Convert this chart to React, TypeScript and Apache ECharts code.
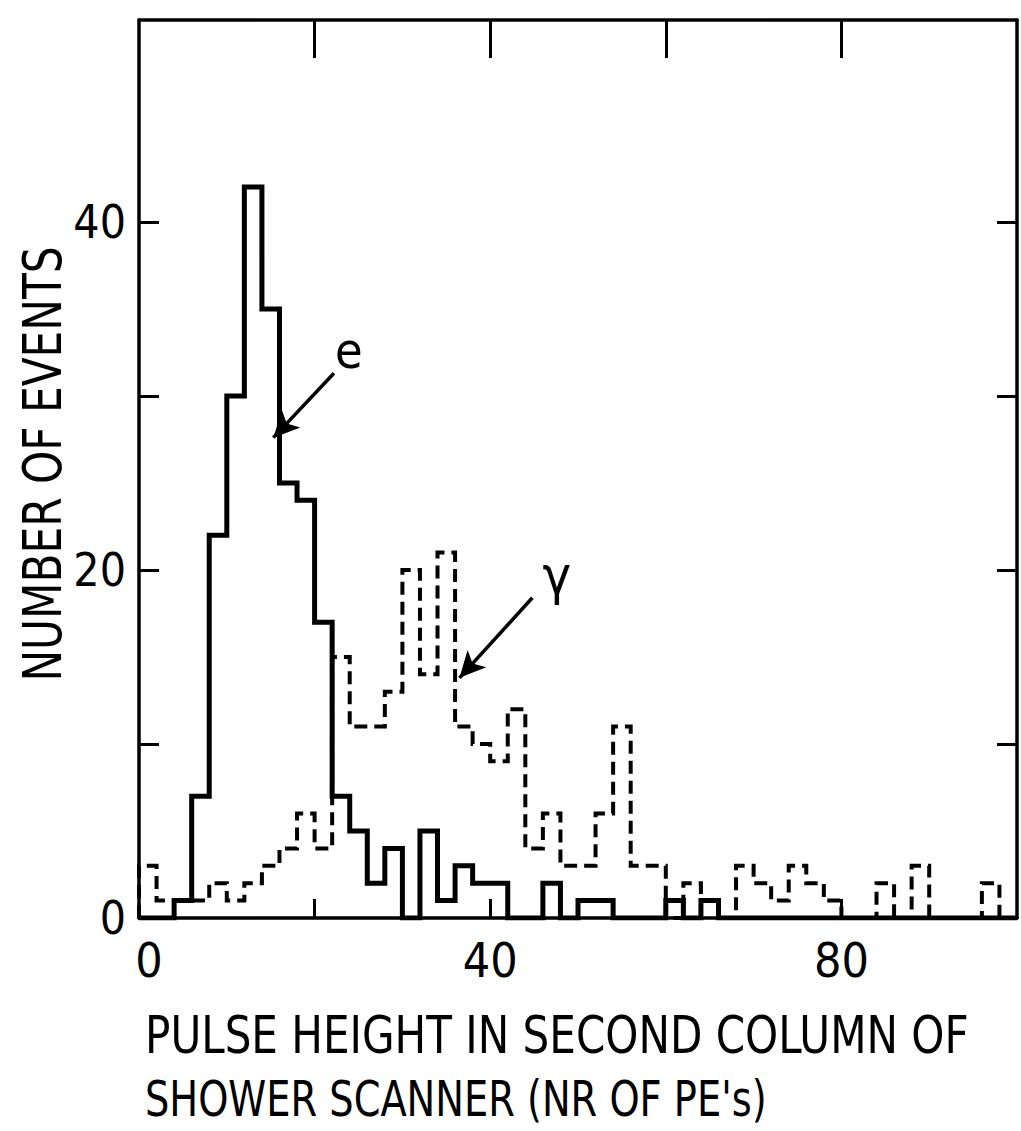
import React, { useEffect, useRef } from 'react';
import * as echarts from 'echarts';

// ---- data ----
const BIN_WIDTH = 2;
const X_MIN = 0;
const X_MAX = 100;
const Y_MIN = 0;
const Y_MAX = 51.6;
const binStarts = Array.from({ length: 50 }, (_, i) => X_MIN + i * BIN_WIDTH);

// electrons (solid)
const electronCounts = [
  0, 0, 1, 7, 22, 30, 42, 35, 25, 24,
  17, 7, 5, 2, 4, 0, 5, 1, 3, 2,
  2, 0, 0, 2, 0, 1, 1, 0, 0, 0,
  1, 0, 1, 0, 0, 0, 0, 0, 0, 0,
  0, 0, 0, 0, 0, 0, 0, 0, 0, 0,
];

// gammas (dashed)
const gammaCounts = [
  3, 1, 1, 1, 2, 1, 2, 3, 4, 6,
  4, 15, 11, 11, 13, 20, 14, 21, 11, 10,
  9, 12, 4, 6, 3, 3, 6, 11, 3, 3,
  0, 2, 1, 0, 3, 2, 1, 3, 2, 1,
  0, 0, 2, 0, 3, 0, 0, 0, 2, 0,
];

const xTickValues = [20, 40, 60, 80];
const xLabelValues = [0, 40, 80];
const yTickValues = [10, 20, 30, 40];
const yLabelValues = [0, 20, 40];

const yTitle = 'NUMBER OF EVENTS';
const xTitleLine1 = 'PULSE HEIGHT IN SECOND COLUMN OF';
const xTitleLine2 = "SHOWER SCANNER (NR OF PE's)";

// annotations, in data coordinates
const eArrowFrom = [22.2, 31.3];
const eArrowTo = [15.3, 27.6];
const eLabelAt = [23.9, 32.6];
const gArrowFrom = [44.8, 18.4];
const gArrowTo = [36.5, 13.8];
const gLabelAt = [47.6, 19.7];

const FONT = '"Liberation Sans Narrow", "DejaVu Sans Condensed", "Liberation Sans", sans-serif';
const INK = '#000';

function histogramOutline(counts: number[]) {
  const last = counts.length - 1;
  const pts: number[][] = [[binStarts[0], 0]];
  counts.forEach((c, i) => pts.push([binStarts[i], c]));
  pts.push([binStarts[last] + BIN_WIDTH, counts[last]]);
  pts.push([binStarts[last] + BIN_WIDTH, 0]);
  return pts;
}

function arrowMarkLine(from: number[], to: number[]) {
  return {
    silent: true,
    symbol: ['none', 'arrow'],
    symbolSize: [19, 26],
    label: { show: false },
    lineStyle: { color: INK, width: 3.5, type: 'solid' },
    emphasis: { disabled: true },
    data: [[{ coord: from }, { coord: to }]],
  };
}

function textMarkPoint(at: number[], text: string, size: number) {
  return {
    silent: true,
    symbol: 'circle',
    symbolSize: 0,
    data: [
      {
        coord: at,
        label: {
          show: true,
          position: 'inside',
          formatter: text,
          fontSize: size,
          fontFamily: FONT,
          color: INK,
        },
      },
    ],
  };
}

export default function App() {
  const ref = useRef<HTMLDivElement>(null);
  useEffect(() => {
    if (!ref.current) return;
    const chart = echarts.init(ref.current, undefined, { renderer: 'svg' });
    const frameLine = { show: true, onZero: false, lineStyle: { color: INK, width: 3.5 } };
    chart.setOption({
      animation: false,
      backgroundColor: '#fff',
      grid: { left: 139, right: 4, top: 20, bottom: 213 },
      xAxis: [
        {
          type: 'value',
          position: 'bottom',
          min: X_MIN,
          max: X_MAX,
          axisLine: frameLine,
          axisTick: { show: true, inside: true, length: 19, customValues: xTickValues, lineStyle: { color: INK, width: 3 } },
          axisLabel: {
            show: true,
            customValues: xLabelValues,
            margin: 18,
            fontSize: 48,
            fontFamily: FONT,
            color: INK,
            formatter: (v: number) => (v === 0 ? '{z|0}' : String(v)),
            rich: { z: { fontSize: 48, fontFamily: FONT, color: INK, padding: [0, 0, 0, 20] } },
          },
          splitLine: { show: false },
        },
        {
          type: 'value',
          position: 'top',
          min: X_MIN,
          max: X_MAX,
          axisLine: frameLine,
          axisTick: { show: true, inside: true, length: 38, customValues: xTickValues, lineStyle: { color: INK, width: 3 } },
          axisLabel: { show: false },
          splitLine: { show: false },
        },
      ],
      yAxis: [
        {
          type: 'value',
          position: 'left',
          min: Y_MIN,
          max: Y_MAX,
          axisLine: frameLine,
          axisTick: { show: true, inside: true, length: 20, customValues: yTickValues, lineStyle: { color: INK, width: 3 } },
          axisLabel: { show: true, customValues: yLabelValues, margin: 13, fontSize: 46, fontFamily: FONT, color: INK },
          splitLine: { show: false },
        },
        {
          type: 'value',
          position: 'right',
          min: Y_MIN,
          max: Y_MAX,
          axisLine: frameLine,
          axisTick: { show: true, inside: true, length: 20, customValues: yTickValues, lineStyle: { color: INK, width: 3 } },
          axisLabel: { show: false },
          splitLine: { show: false },
        },
      ],
      series: [
        {
          name: 'gamma',
          type: 'line',
          step: 'end',
          xAxisIndex: 0,
          yAxisIndex: 0,
          showSymbol: false,
          symbol: 'none',
          data: histogramOutline(gammaCounts),
          lineStyle: { color: INK, width: 4, type: [13, 7], join: 'miter' },
          markLine: arrowMarkLine(gArrowFrom, gArrowTo),
          markPoint: textMarkPoint(gLabelAt, 'γ', 54),
        },
        {
          name: 'e',
          type: 'line',
          step: 'end',
          xAxisIndex: 0,
          yAxisIndex: 0,
          showSymbol: false,
          symbol: 'none',
          data: histogramOutline(electronCounts),
          lineStyle: { color: INK, width: 5, type: 'solid', join: 'miter' },
          markLine: arrowMarkLine(eArrowFrom, eArrowTo),
          markPoint: textMarkPoint(eLabelAt, 'e', 50),
        },
      ],
      graphic: [
        {
          type: 'text',
          x: 42,
          y: 464,
          rotation: Math.PI / 2,
          scaleX: 0.87,
          style: { text: yTitle, fontSize: 54, fontFamily: FONT, fill: INK, align: 'center', verticalAlign: 'middle' },
        },
        {
          type: 'text',
          x: 145,
          y: 1035,
          scaleX: 0.9,
          style: { text: xTitleLine1, fontSize: 52, lineHeight: 50, fontFamily: FONT, fill: INK, align: 'left', verticalAlign: 'middle' },
        },
        {
          type: 'text',
          x: 145,
          y: 1099,
          scaleX: 0.87,
          style: { text: xTitleLine2, fontSize: 49, lineHeight: 46, fontFamily: FONT, fill: INK, align: 'left', verticalAlign: 'middle' },
        },
      ],
    });
    return () => chart.dispose();
  }, []);
  return (
    <div
      ref={ref}
      style={{ position: 'absolute', left: 0, top: 0, width: 1021, height: 1131, background: '#fff' }}
    />
  );
}
